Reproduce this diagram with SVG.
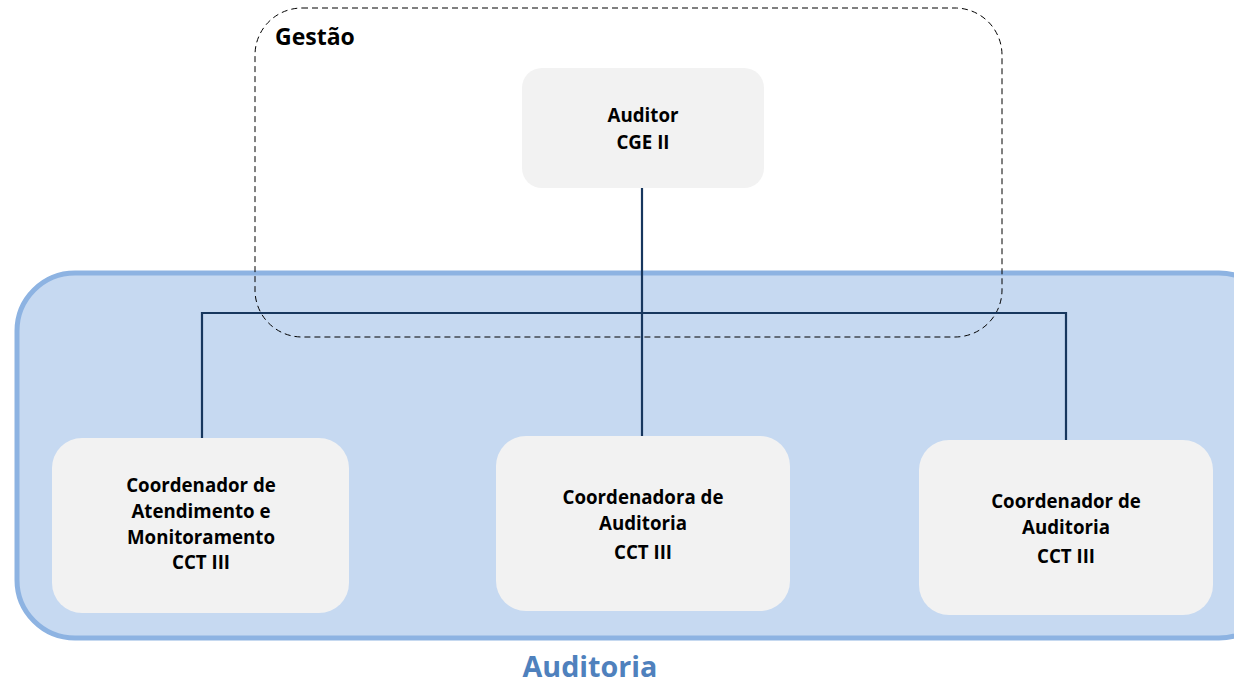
<svg xmlns="http://www.w3.org/2000/svg" width="1234" height="684" viewBox="0 0 1234 684">
<style>
.node{fill:#F2F2F2;}
.t{font-family:"Open Sans","Liberation Sans",sans-serif;font-weight:bold;font-size:18.7px;fill:#000;text-anchor:middle;}
.conn{stroke:#17375E;stroke-width:2.2;fill:none;}
</style>
<rect width="1234" height="684" fill="#fff"/>
<g id="auditoria">
<rect x="17" y="273" width="1260" height="365" rx="58" fill="#C6D9F1" stroke="#8DB3E2" stroke-width="5"/>
<text x="590" y="677" style="font-family:'Open Sans','Liberation Sans',sans-serif;font-weight:bold;font-size:28.7px;fill:#4F81BD;text-anchor:middle">Auditoria</text>
</g>
<g id="gestao">
<rect x="255" y="8" width="747" height="329" rx="47" fill="none" stroke="#000" stroke-width="1" stroke-dasharray="6,4"/>
<text x="275" y="45" style="font-family:'Open Sans','Liberation Sans',sans-serif;font-weight:bold;font-size:23px;fill:#000">Gestão</text>
</g>
<g id="connectors">
<path class="conn" d="M642 188 V437"/>
<path class="conn" d="M202 439 V313 H1066 V442"/>
</g>
<g id="auditor">
<rect class="node" x="522" y="68" width="242" height="120" rx="20"/>
<text class="t" x="643" y="122">Auditor</text>
<text class="t" x="643" y="149">CGE II</text>
</g>
<g id="coord-atendimento">
<rect class="node" x="52" y="438" width="297" height="175" rx="30"/>
<text class="t" x="201" y="492">Coordenador de</text>
<text class="t" x="201" y="518">Atendimento e</text>
<text class="t" x="201" y="544">Monitoramento</text>
<text class="t" x="201" y="569">CCT III</text>
</g>
<g id="coordenadora-auditoria">
<rect class="node" x="496" y="436" width="294" height="175" rx="30"/>
<text class="t" x="643" y="504">Coordenadora de</text>
<text class="t" x="643" y="530">Auditoria</text>
<text class="t" x="643" y="559">CCT III</text>
</g>
<g id="coordenador-auditoria">
<rect class="node" x="919" y="440" width="294" height="175" rx="30"/>
<text class="t" x="1066" y="508">Coordenador de</text>
<text class="t" x="1066" y="534">Auditoria</text>
<text class="t" x="1066" y="563">CCT III</text>
</g>
</svg>
